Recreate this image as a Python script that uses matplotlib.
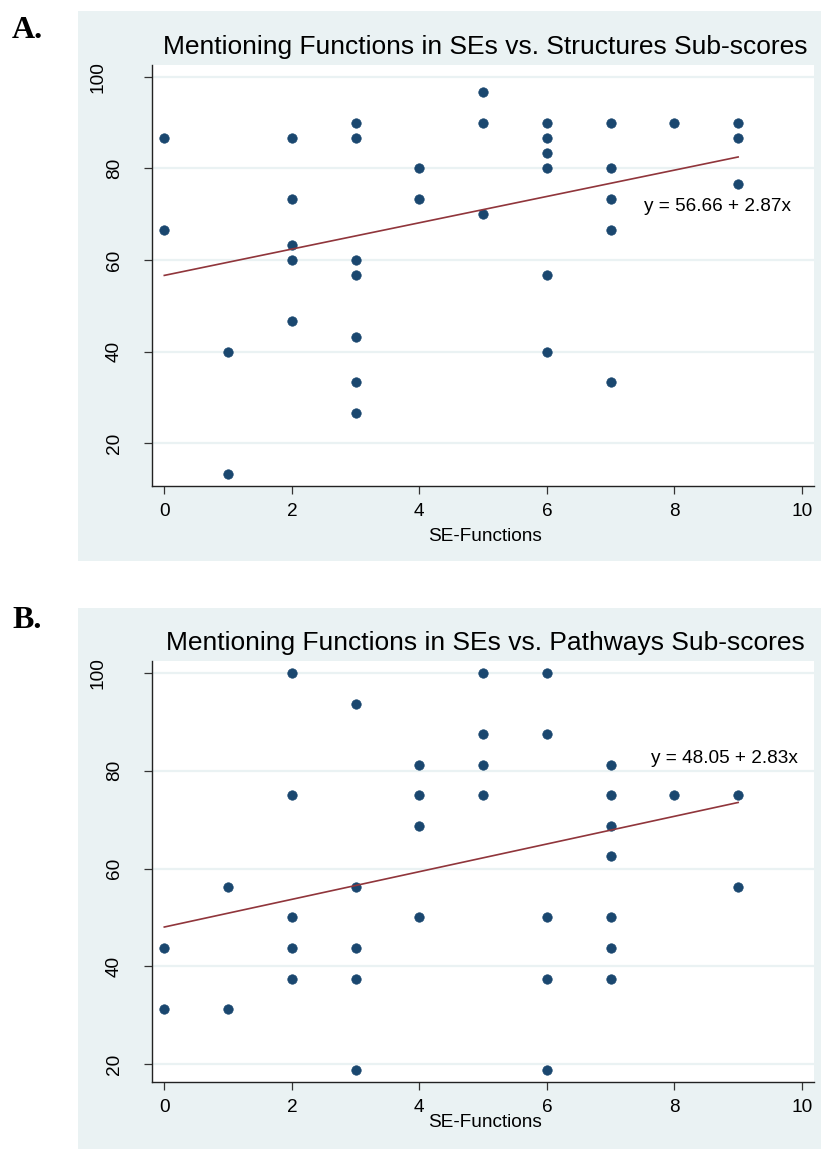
import matplotlib
matplotlib.use("Agg")
import matplotlib.pyplot as plt
from matplotlib.patches import Rectangle
from matplotlib.transforms import ScaledTranslation
import numpy as np

# ---- data -------------------------------------------------------------
se_functions_struct = [0, 0, 1, 1, 2, 2, 2, 2, 2, 3, 3, 3, 3, 3, 3, 3, 4, 4,
                       5, 5, 5, 6, 6, 6, 6, 6, 6, 7, 7, 7, 7, 7, 8, 9, 9, 9]
structures_scores = [86.67, 66.67, 40, 13.33, 86.67, 73.33, 63.33, 60, 46.67,
                     90, 86.67, 60, 56.67, 43.33, 33.33, 26.67, 80, 73.33,
                     96.67, 90, 70, 90, 86.67, 83.33, 80, 56.67, 40,
                     90, 80, 73.33, 66.67, 33.33, 90, 90, 86.67, 76.67]

se_functions_path = [0, 0, 1, 1, 2, 2, 2, 2, 2, 3, 3, 3, 3, 3, 4, 4, 4, 4,
                     5, 5, 5, 5, 6, 6, 6, 6, 6, 7, 7, 7, 7, 7, 7, 7, 8, 9, 9]
pathways_scores = [43.75, 31.25, 56.25, 31.25, 100, 75, 50, 43.75, 37.5,
                   93.75, 56.25, 43.75, 37.5, 18.75, 81.25, 75, 68.75, 50,
                   100, 87.5, 81.25, 75, 100, 87.5, 50, 37.5, 18.75,
                   81.25, 75, 68.75, 62.5, 50, 43.75, 37.5, 75, 75, 56.25]

fit_struct = (56.66, 2.87)   # intercept, slope
fit_path = (48.05, 2.83)

titles = ["Mentioning Functions in SEs vs. Structures Sub-scores",
          "Mentioning Functions in SEs vs. Pathways Sub-scores"]
panel_letters = ["A.", "B."]
x_ticks = [0, 2, 4, 6, 8, 10]
y_ticks = [20, 40, 60, 80, 100]

# ---- style ------------------------------------------------------------
BG = "#EAF2F3"
DOT = "#1A476F"
FIT = "#90353B"
W, H = 821, 1149
plt.rcParams["font.family"] = ["Liberation Sans", "DejaVu Sans"]

fig = plt.figure(figsize=(W / 100, H / 100), dpi=100)

def px_box(x0, y0, x1, y1):
    """Figure-fraction rectangle from pixel corners (top-left origin)."""
    return [x0 / W, 1 - y1 / H, (x1 - x0) / W, (y1 - y0) / H]

# light panel backgrounds, kept behind the axes
for (x0, y0, x1, y1) in [(78, 11, 821, 561), (78, 608, 821, 1149)]:
    l, b, w, h = px_box(x0, y0, x1, y1)
    fig.add_artist(Rectangle((l, b), w, h, transform=fig.transFigure,
                             facecolor=BG, edgecolor="none", zorder=-10))

panels = [
    dict(box=(152, 65, 814, 486), x=se_functions_struct, y=structures_scores,
         fit=fit_struct, ylim=(10.73, 102.55), eq_pos=(7.52, 71.65),
         xlabel_y=-0.121, letter_y=30),
    dict(box=(152, 661, 814, 1082), x=se_functions_path, y=pathways_scores,
         fit=fit_path, ylim=(16.36, 102.45), eq_pos=(7.63, 82.56),
         xlabel_y=-0.097, letter_y=620),
]

for i, p in enumerate(panels):
    ax = fig.add_axes(px_box(*p["box"]))
    ax.set_zorder(1)
    ax.set_facecolor("white")
    ax.set_xlim(-0.193, 10.19)
    ax.set_ylim(*p["ylim"])

    ax.set_yticks(y_ticks)
    ax.set_xticks(x_ticks)
    ax.yaxis.grid(True, color=BG, linewidth=1.6, zorder=0)
    ax.set_axisbelow(True)

    for side in ("top", "right"):
        ax.spines[side].set_visible(False)
    for side in ("left", "bottom"):
        ax.spines[side].set_color("#222222")
        ax.spines[side].set_linewidth(1.0)

    ax.tick_params(axis="both", direction="out", length=6, width=0.9,
                   color="#333333", labelsize=13.7)
    ax.tick_params(axis="x", pad=6)
    ax.tick_params(axis="y", pad=15)
    for lab in ax.get_yticklabels():
        lab.set_rotation(90)
        lab.set_va("center")
        if lab.get_text() == "100":
            lab.set_transform(lab.get_transform() +
                              ScaledTranslation(-0.16, 0, fig.dpi_scale_trans))

    xs = np.asarray(p["x"], dtype=float)
    ys = np.asarray(p["y"], dtype=float)
    ax.plot(xs, ys, linestyle="none", marker="o", markersize=6.8,
            markerfacecolor=DOT, markeredgecolor=DOT, markeredgewidth=0.5,
            zorder=3)

    a, b = p["fit"]
    xf = np.array([xs.min(), xs.max()])
    ax.plot(xf, a + b * xf, color=FIT, linewidth=1.2, zorder=4)
    ax.text(p["eq_pos"][0], p["eq_pos"][1], f"y = {a:.2f} + {b:.2f}x",
            ha="left", va="center", fontsize=13.7, color="black", zorder=5)

    ax.set_xlabel("SE-Functions", fontsize=13.7)
    ax.xaxis.label.set_va("center")
    ax.xaxis.set_label_coords(0.503, p["xlabel_y"])

    ax.text(0.503, 1.043, titles[i], transform=ax.transAxes, ha="center",
            va="center", fontsize=19)

    fig.text(12 / W, 1 - p["letter_y"] / H, panel_letters[i], ha="left",
             va="center", fontsize=23, fontweight="bold",
             family=["Liberation Serif", "DejaVu Serif"])

fig.savefig("out.png", dpi=100)
